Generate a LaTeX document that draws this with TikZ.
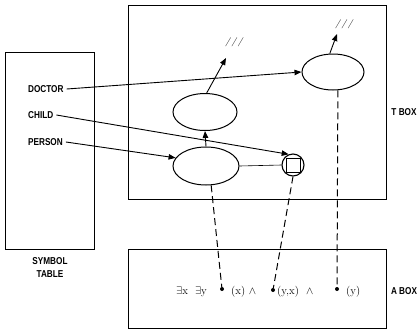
\documentclass[tikz,border=0pt]{standalone}
\usepackage{fontspec}
\setsansfont{Liberation Sans}
\usetikzlibrary{arrows.meta,shapes.geometric,calc}
\begin{document}
\begin{tikzpicture}[x=1pt,y=-1pt,
  box/.style={draw,line width=1pt},
  lbl/.style={font=\sffamily\bfseries\fontsize{10}{12}\selectfont,inner sep=0pt,xscale=0.82},
  ell/.style={draw,line width=1pt,ellipse,inner sep=0pt},
  arr/.style={line width=0.9pt,-{Triangle[length=7pt,width=5.5pt]}},
  dsh/.style={line width=1pt,dash pattern=on 7pt off 4pt},
  dotn/.style={circle,fill,inner sep=0pt,minimum size=4pt},
  ax/.style={font=\fontsize{11}{13}\selectfont,inner sep=0pt,anchor=base west},
  sl/.style={font=\small\itshape,inner sep=0pt}]
\useasboundingbox (0,0) rectangle (420,333);
% boxes
\draw[box] (5,52) rectangle (94,249);
\draw[box] (128,5) rectangle (386,199);
\draw[box] (128,249) rectangle (386,328);
\node[lbl,align=center] (symtab) at (50,268) {SYMBOL\\[1pt]TABLE};
\node[lbl] (tbox) at (404,112) {T BOX};
\node[lbl] (abox) at (404,291) {A BOX};
% symbol table labels
\node[lbl,anchor=west] (doctor) at (28,89) {DOCTOR};
\node[lbl,anchor=west] (child) at (28,115) {CHILD};
\node[lbl,anchor=west] (person) at (28,142) {PERSON};
% T box nodes
\node[ell,minimum width=62pt,minimum height=36pt] (e3) at (333,72) {};
\node[ell,minimum width=64pt,minimum height=37pt] (e2) at (205,112) {};
\node[ell,minimum width=66pt,minimum height=38pt] (e1) at (206,166) {};
\node[draw,circle,line width=1.1pt,minimum size=22pt,inner sep=0pt] (circ) at (293,165) {};
\node[draw,line width=1pt,minimum size=14pt,inner sep=0pt] (sq) at (293,165) {};
\node[sl] (s2) at (234,42) {/\,/\,/};
\node[sl] (s3) at (344,24) {/\,/\,/};
\coordinate (t2) at (226,58);
\coordinate (t3) at (337,34);
% connectors
\draw[arr] (doctor.east) ++(3,0) -- (e3.180);
\draw[arr] (child.east) ++(3,0) -- (circ.112);
\draw[arr] (person.east) ++(3,0) -- (e1.165);
\draw[arr] (e1.north) -- (e2.south);
\draw[arr] (e2.85) -- (t2);
\draw[arr] (e3.100) -- (t3);
\draw[line width=0.6pt] (e1.east) -- (circ.west);
% A box formula
\node[ax] (ex) at (176,294) {$\exists$x\ \ $\exists$y};
\node[dotn] (d1) at (222,289) {};
\node[ax] (fx) at (231,294) {(x)\ $\wedge$};
\node[dotn] (d2) at (273,290) {};
\node[ax] (fyx) at (277,294) {(y,x)\ \ $\wedge$};
\node[dotn] (d3) at (337,289) {};
\node[ax] (fy) at (346,294) {(y)};
% dashed links
\draw[dsh] (e1.-75) -- (d1);
\draw[dsh] (circ.south) -- (d2);
\draw[dsh] (e3.-75) -- (d3);
\end{tikzpicture}
\end{document}
